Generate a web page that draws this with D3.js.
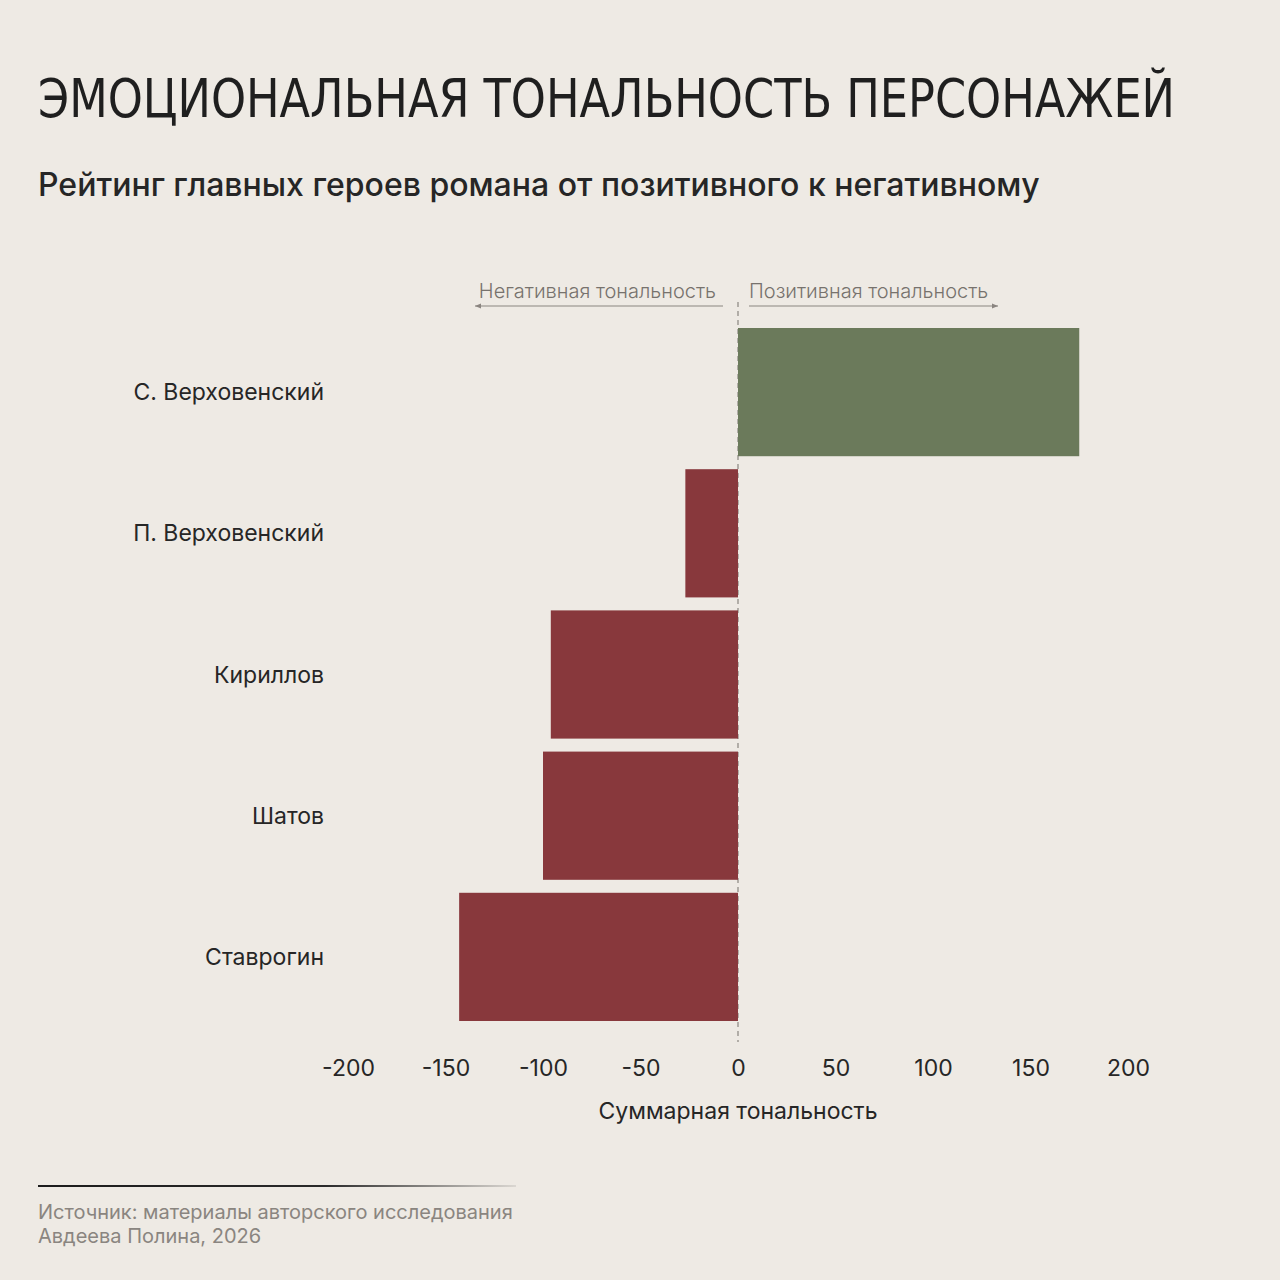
<!DOCTYPE html>
<html>
<head>
<meta charset="utf-8">
<script src="https://cdn.jsdelivr.net/npm/d3@7"></script>
<style>
  body { margin: 0; background: #eeeae4; }
  svg { display: block; }
</style>
</head>
<body>
<div id="chart"></div>
<script>
const width = 1280, height = 1280;

// data
const characters = ['С. Верховенский', 'П. Верховенский', 'Кириллов', 'Шатов', 'Ставрогин'];
const tonality = [175, -27, -96, -100, -143];
const ticks = [-200, -150, -100, -50, 0, 50, 100, 150, 200];

const data = characters.map((c, i) => ({name: c, value: tonality[i]}));

let svg = d3.select('#chart')
  .append('svg')
  .attr('width', width)
  .attr('height', height);

svg.append('rect')
  .attr('width', width)
  .attr('height', height)
  .attr('fill', '#eeeae4');

let defs = svg.append('defs');

let fade = defs.append('linearGradient')
  .attr('id', 'fade')
  .attr('x1', '0%').attr('x2', '100%');
fade.append('stop').attr('offset', '0%').attr('stop-color', '#1c1c1c');
fade.append('stop').attr('offset', '60%').attr('stop-color', '#2a2a2a');
fade.append('stop').attr('offset', '100%').attr('stop-color', '#2a2a2a').attr('stop-opacity', 0.1);

defs.append('marker')
  .attr('id', 'arrow')
  .attr('viewBox', '0 0 10 10')
  .attr('refX', 10)
  .attr('refY', 5)
  .attr('markerWidth', 6)
  .attr('markerHeight', 6)
  .attr('markerUnits', 'userSpaceOnUse')
  .attr('orient', 'auto')
  .append('path')
  .attr('d', 'M0,1 L10,5 L0,9 Z')
  .attr('fill', '#8a8580');

// title
svg.append('text')
  .attr('x', 38)
  .attr('y', 117)
  .attr('textLength', 1137)
  .attr('lengthAdjust', 'spacingAndGlyphs')
  .style('font-family', '"DejaVu Sans Condensed", "DejaVu Sans", sans-serif')
  .style('font-size', '53px')
  .style('fill', '#1f1f1f')
  .text('ЭМОЦИОНАЛЬНАЯ ТОНАЛЬНОСТЬ ПЕРСОНАЖЕЙ');

svg.append('text')
  .attr('x', 38)
  .attr('y', 196)
  .style('font-family', 'Inter, sans-serif')
  .style('font-size', '32px')
  .style('font-weight', 500)
  .style('fill', '#262626')
  .text('Рейтинг главных героев романа от позитивного к негативному');

// scales
let x = d3.scaleLinear()
  .domain([-200, 200])
  .range([348, 1128]);

let y = d3.scaleBand()
  .domain(characters)
  .range([328, 1021])
  .paddingInner(0.092)
  .paddingOuter(0);

// zero line
svg.append('line')
  .attr('x1', x(0)).attr('x2', x(0))
  .attr('y1', 302).attr('y2', 1042)
  .attr('stroke', '#8a8580')
  .attr('stroke-width', 1.2)
  .attr('stroke-dasharray', '5,4');

// bars
svg.selectAll('rect.bar')
  .data(data)
  .enter()
  .append('rect')
  .attr('class', 'bar')
  .attr('x', d => x(Math.min(0, d.value)))
  .attr('y', d => y(d.name))
  .attr('width', d => Math.abs(x(d.value) - x(0)))
  .attr('height', y.bandwidth())
  .attr('fill', d => d.value >= 0 ? '#6b7a5b' : '#88383c');

// category labels
svg.selectAll('text.cat')
  .data(data)
  .enter()
  .append('text')
  .attr('class', 'cat')
  .attr('x', 324)
  .attr('y', d => y(d.name) + y.bandwidth() / 2)
  .attr('dy', '0.35em')
  .style('text-anchor', 'end')
  .style('font-family', 'Inter, sans-serif')
  .style('font-size', '23px')
  .style('fill', '#262626')
  .text(d => d.name);

// x axis
let xAxis = svg.append('g')
  .attr('transform', 'translate(0, 1068)')
  .call(d3.axisBottom(x).tickValues(ticks).tickSize(0).tickPadding(0).tickFormat(d => String(d)));
xAxis.select('.domain').remove();
xAxis.selectAll('text')
  .attr('dy', '0.35em')
  .style('font-family', 'Inter, sans-serif')
  .style('font-size', '23px')
  .style('fill', '#262626');

svg.append('text')
  .attr('x', x(0))
  .attr('y', 1119)
  .style('text-anchor', 'middle')
  .style('font-family', 'Inter, sans-serif')
  .style('font-size', '23px')
  .style('fill', '#262626')
  .text('Суммарная тональность');

// direction annotations
svg.append('text')
  .attr('x', 716)
  .attr('y', 298)
  .style('text-anchor', 'end')
  .style('font-family', 'Inter, sans-serif')
  .style('font-size', '20px')
  .style('font-weight', 300)
  .style('fill', '#77726d')
  .text('Негативная тональность');

svg.append('text')
  .attr('x', 749)
  .attr('y', 298)
  .style('font-family', 'Inter, sans-serif')
  .style('font-size', '20px')
  .style('font-weight', 300)
  .style('fill', '#77726d')
  .text('Позитивная тональность');

svg.append('line')
  .attr('x1', 723).attr('x2', 475)
  .attr('y1', 306).attr('y2', 306)
  .attr('stroke', '#8a8580')
  .attr('stroke-width', 1.2)
  .attr('marker-end', 'url(#arrow)');

svg.append('line')
  .attr('x1', 749).attr('x2', 998)
  .attr('y1', 306).attr('y2', 306)
  .attr('stroke', '#8a8580')
  .attr('stroke-width', 1.2)
  .attr('marker-end', 'url(#arrow)');

// footer
svg.append('rect')
  .attr('x', 38)
  .attr('y', 1185)
  .attr('width', 478)
  .attr('height', 2)
  .attr('fill', 'url(#fade)');

svg.append('text')
  .attr('x', 38)
  .attr('y', 1219)
  .style('font-family', 'Inter, sans-serif')
  .style('font-size', '20px')
  .style('fill', '#8a8580')
  .text('Источник: материалы авторского исследования');

svg.append('text')
  .attr('x', 38)
  .attr('y', 1243)
  .style('font-family', 'Inter, sans-serif')
  .style('font-size', '20px')
  .style('fill', '#8a8580')
  .text('Авдеева Полина, 2026');
</script>
</body>
</html>
